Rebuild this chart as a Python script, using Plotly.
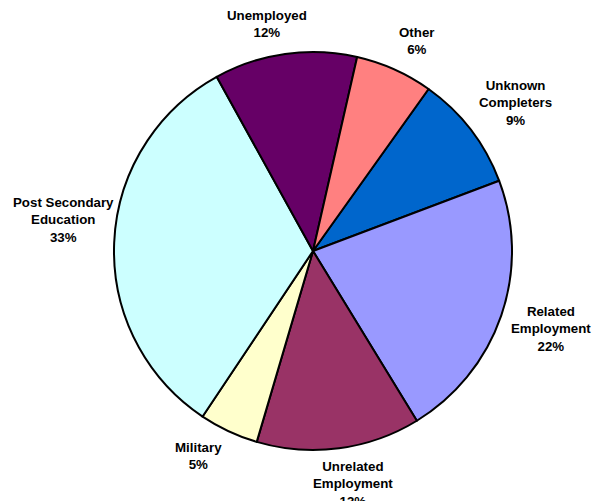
import numpy as np
import plotly.graph_objects as go

# --- data (percent of completers) ---
labels = ["Unknown<br>Completers", "Related<br>Employment", "Unrelated<br>Employment",
          "Military", "Post Secondary<br>Education", "Unemployed", "Other"]
values = [9.4, 22.0, 13.3, 4.8, 32.6, 11.6, 6.3]
colors = ["#0066CC", "#9999FF", "#993366", "#FFFFCC", "#CCFFFF", "#660066", "#FF8080"]

# small pixel nudges for the label boxes (Excel-style placement)
nudges = [(1, 7), (0, -4), (9, -5), (-14, -10), (11, -20), (-13, 3), (8, 2)]

W, H = 603, 501
cx, cy, R = 305, 243, 199
rotation = 35.5

fig = go.Figure(go.Pie(
    labels=[l.replace("<br>", " ") for l in labels],
    values=values,
    sort=False,
    direction="clockwise",
    rotation=rotation,
    marker=dict(colors=colors, line=dict(color="black", width=2)),
    textinfo="none",
    hoverinfo="label+percent",
    domain=dict(x=[(cx - R) / W, (cx + R) / W], y=[1 - (cy + R) / H, 1 - (cy - R) / H]),
    showlegend=False,
))

# labels outside the pie, placed at each slice's mid angle
total = sum(values)
cum = 0
for lab, v, (nx, ny) in zip(labels, values, nudges):
    mid = np.radians(rotation + 360 * (cum + v / 2) / total)
    cum += v
    dx, dy = np.sin(mid), -np.cos(mid)
    pct = f"{100 * v / total:.0f}%"
    lines = lab.split("<br>") + [pct]
    hw = max(len(s) for s in lines) * 3.6
    hh = len(lines) * 9
    d = R + 10 + abs(dx) * hw + abs(dy) * hh
    px, py = cx + d * dx + nx, cy + d * dy + ny
    fig.add_annotation(
        x=px / W, y=1 - py / H, xref="paper", yref="paper",
        text=f"<b>{lab}<br>{pct}</b>", showarrow=False,
        xanchor="center", yanchor="middle", align="center",
        font=dict(family="Liberation Sans, Arial", size=13.3, color="black"),
    )

fig.update_layout(
    width=W, height=H,
    margin=dict(l=0, r=0, t=0, b=0),
    paper_bgcolor="white",
    plot_bgcolor="white",
)

fig.write_html("out.html")
